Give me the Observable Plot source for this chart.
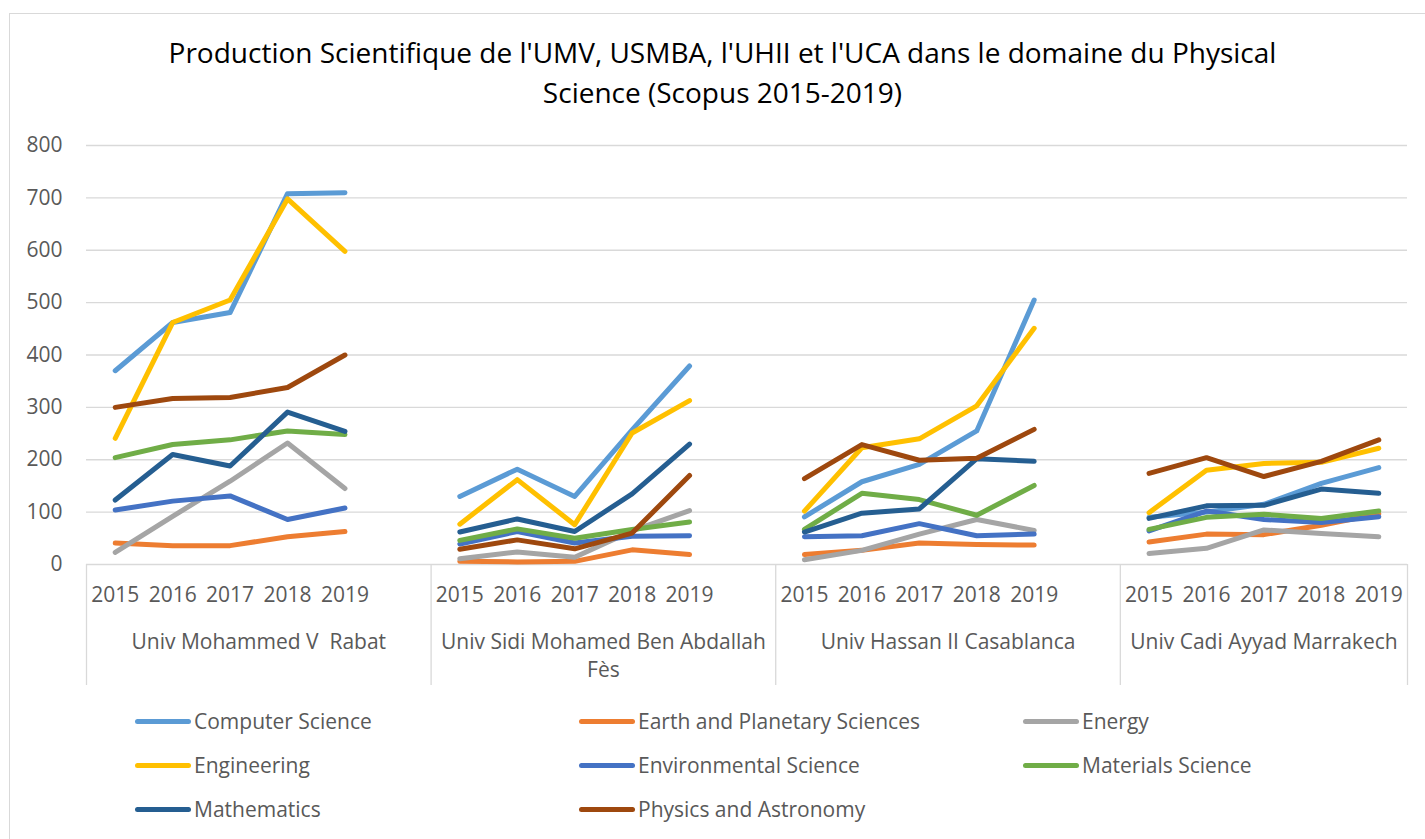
<!DOCTYPE html>
<html>
<head>
<meta charset="utf-8">
<script src="https://cdn.jsdelivr.net/npm/d3@7"></script>
<script src="https://cdn.jsdelivr.net/npm/@observablehq/plot@0.6"></script>
<style>
  html, body { margin: 0; padding: 0; background: #fff; width: 1425px; height: 839px; overflow: hidden; font-family: "Open Sans", sans-serif; }
  #frame { position: absolute; left: 9px; top: 13px; width: 1500px; height: 900px; border: 1px solid #d9d9d9; box-sizing: border-box; }
  #title { position: absolute; left: 0; top: 32px; width: 1445px; text-align: center; font-size: 28px; line-height: 40px; color: #000; }
  #chart { position: absolute; left: 0; top: 120px; }
  #legend { position: absolute; left: 135px; top: 699px; display: grid; grid-template-columns: 444px 444px 300px; grid-auto-rows: 44px; }
  .item { display: flex; align-items: center; font-size: 21px; color: #595959; white-space: nowrap; }
  .sw { display: inline-block; width: 56px; height: 5px; border-radius: 3px; margin-right: 3px; }
</style>
</head>
<body>
<div id="frame"></div>
<div id="title">Production Scientifique de l'UMV, USMBA, l'UHII et l'UCA dans le domaine du Physical<br>Science (Scopus 2015-2019)</div>
<div id="chart"></div>
<div id="legend"></div>
<script>
const universities = ["Univ Mohammed V  Rabat", "Univ Sidi Mohamed Ben Abdallah Fès", "Univ Hassan II Casablanca", "Univ Cadi Ayyad Marrakech"];
const years = [2015, 2016, 2017, 2018, 2019];
const seriesNames = ["Computer Science", "Earth and Planetary Sciences", "Energy", "Engineering", "Environmental Science", "Materials Science", "Mathematics", "Physics and Astronomy"];
const seriesColors = ["#5B9BD5", "#ED7D31", "#A5A5A5", "#FFC000", "#4472C4", "#70AD47", "#255E91", "#9E480E"];
const yTicks = [0, 100, 200, 300, 400, 500, 600, 700, 800];

// values per series: one row of 5 years per university
const computerScience = [[370, 462, 481, 708, 710], [130, 182, 130, 257, 379], [91, 158, 191, 255, 505], [90, 100, 115, 155, 185]];
const earthPlanetary  = [[41, 36, 36, 53, 63], [6, 5, 6, 28, 19], [19, 27, 41, 38, 37], [43, 58, 57, 75, 97]];
const energy          = [[23, 92, 159, 232, 145], [11, 24, 14, 64, 103], [9, 27, 58, 86, 65], [21, 31, 66, 59, 53]];
const engineering     = [[241, 462, 505, 698, 598], [77, 162, 76, 251, 313], [102, 223, 240, 303, 451], [99, 180, 193, 195, 222]];
const environmental   = [[104, 121, 131, 86, 108], [39, 63, 41, 54, 55], [53, 55, 78, 55, 58], [64, 102, 86, 80, 91]];
const materials       = [[204, 229, 238, 255, 248], [46, 68, 50, 67, 81], [67, 136, 124, 94, 151], [67, 90, 96, 88, 102]];
const mathematics     = [[123, 210, 188, 291, 254], [62, 87, 63, 135, 230], [62, 98, 106, 202, 197], [88, 112, 113, 144, 136]];
const physics         = [[300, 317, 319, 338, 400], [29, 47, 30, 60, 170], [164, 229, 199, 203, 258], [174, 204, 168, 197, 238]];

const seriesValues = [computerScience, earthPlanetary, energy, engineering, environmental, materials, mathematics, physics];

// each university occupies 6 category slots (5 years + 1 blank), last one 5
const slot = (g, j) => g * 6 + j;
const rows = [];
seriesNames.forEach((s, si) => {
  universities.forEach((u, g) => {
    years.forEach((yr, j) => {
      rows.push({series: s, si, univ: u, g, year: yr, x: slot(g, j), value: seriesValues[si][g][j]});
    });
  });
});
const yearTicks = [];
universities.forEach((u, g) => years.forEach((yr, j) => yearTicks.push({x: slot(g, j), label: String(yr)})));
const nSlots = universities.length * 6 - 1;
const boundaries = universities.map((u, g) => g * 6 - 0.5).concat([nSlots - 0.5]);
const groupLabels = universities.map((u, g) => ({
  x: (g * 6 - 0.5 + Math.min(g * 6 + 5.5, nSlots - 0.5)) / 2,
  label: u
}));

const W = 1425, H = 570;
const plot = Plot.plot({
  width: W,
  height: H,
  marginLeft: 86,
  marginRight: 18,
  marginTop: 25,
  marginBottom: 126,
  style: {fontFamily: "'Open Sans', sans-serif", fontSize: "21px", color: "#595959", background: "transparent"},
  x: {type: "linear", domain: [-0.5, nSlots - 0.5], axis: null},
  y: {domain: [0, 800], axis: null},
  color: {domain: seriesNames, range: seriesColors},
  marks: [
    Plot.ruleY(yTicks, {y: d => d, stroke: "#d9d9d9", strokeWidth: 1.3}),
    Plot.ruleX(boundaries, {x: d => d, y1: 0, y2: 0, insetBottom: -121, stroke: "#d9d9d9", strokeWidth: 1.3}),
    Plot.axisY(yTicks, {tickSize: 0, tickPadding: 24, fontSize: 21, fill: "#595959", label: null, tickFormat: d => String(d)}),
    Plot.text(yearTicks, {x: "x", text: "label", frameAnchor: "bottom", dy: 31, lineAnchor: "middle", fill: "#595959", fontSize: 21}),
    Plot.text(groupLabels, {x: "x", text: "label", frameAnchor: "bottom", dy: 64, lineAnchor: "top", lineWidth: 16, lineHeight: 1.35, fill: "#595959", fontSize: 21}),
    Plot.line(rows, {x: "x", y: "value", z: d => d.series + "|" + d.g, stroke: "series", strokeWidth: 5, strokeLinecap: "round", strokeLinejoin: "round"})
  ]
});
document.getElementById("chart").appendChild(plot);

const legend = document.getElementById("legend");
seriesNames.forEach((name, i) => {
  const it = document.createElement("div");
  it.className = "item";
  const sw = document.createElement("span");
  sw.className = "sw";
  sw.style.background = seriesColors[i];
  it.appendChild(sw);
  it.appendChild(document.createTextNode(name));
  legend.appendChild(it);
});
</script>
</body>
</html>
